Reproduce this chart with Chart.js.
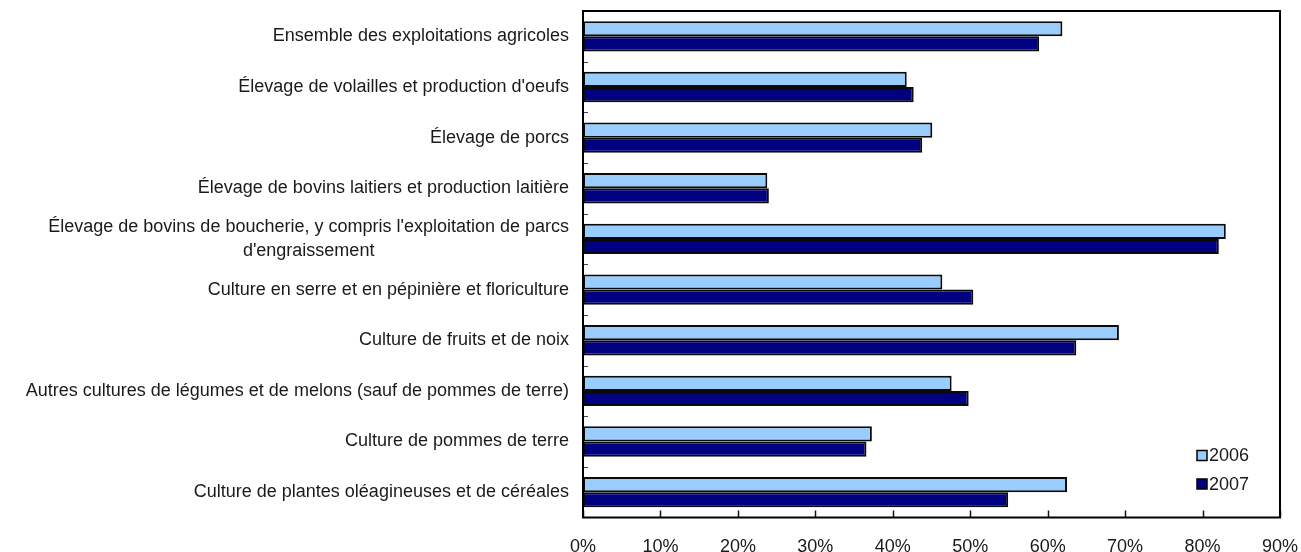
<!DOCTYPE html>
<html>
<head>
<meta charset="utf-8">
<script src="https://cdn.jsdelivr.net/npm/chart.js@4"></script>
<style>
  body { margin: 0; background: #fff; }
  #wrap { width: 1301px; height: 552px; }
</style>
</head>
<body>
<div id="wrap"><canvas id="myChart" width="1301" height="552"></canvas></div>
<script>
const categories = [
  ['Ensemble des exploitations agricoles'],
  ["Élevage de volailles et production d'oeufs"],
  ['Élevage de porcs'],
  ['Élevage de bovins laitiers et production laitière'],
  ["Élevage de bovins de boucherie, y compris l'exploitation de parcs", "d'engraissement"],
  ['Culture en serre et en pépinière et floriculture'],
  ['Culture de fruits et de noix'],
  ['Autres cultures de légumes et de melons (sauf de pommes de terre)'],
  ['Culture de pommes de terre'],
  ['Culture de plantes oléagineuses et de céréales']
];
const values2006 = [61.9, 41.8, 45.1, 23.8, 83.0, 46.4, 69.2, 47.6, 37.3, 62.5];
const values2007 = [58.9, 42.7, 43.8, 24.0, 82.1, 50.4, 63.7, 49.8, 36.6, 54.9];
const seriesLabels = ['2006', '2007'];
const xTicks = [0, 10, 20, 30, 40, 50, 60, 70, 80, 90];

const FONT = '"Liberation Sans", Arial, Helvetica, sans-serif';
const TEXT_COLOR = '#1a1a1a';

// cadre, petites graduations, étiquettes des catégories et légende
const decorPlugin = {
  id: 'decor',
  afterDraw(chart) {
    const { ctx, chartArea: a, scales } = chart;
    const xs = scales.x, ys = scales.y;
    ctx.save();

    // graduations vers l'intérieur
    ctx.strokeStyle = '#111';
    ctx.lineWidth = 1.5;
    xTicks.forEach(v => {
      const px = Math.round(xs.getPixelForValue(v)) + 0.5;
      ctx.beginPath();
      ctx.moveTo(px, a.bottom);
      ctx.lineTo(px, a.bottom - 7);
      ctx.stroke();
    });
    ctx.strokeStyle = '#444';
    ctx.lineWidth = 1;
    for (let i = 1; i < categories.length; i++) {
      const py = Math.round(ys.getPixelForValue(i - 0.5)) + 0.5;
      ctx.beginPath();
      ctx.moveTo(a.left, py);
      ctx.lineTo(a.left + 5, py);
      ctx.stroke();
    }

    // cadre
    ctx.strokeStyle = '#000';
    ctx.lineWidth = 2;
    ctx.strokeRect(a.left, a.top, a.right - a.left, a.bottom - a.top);

    // étiquettes
    ctx.font = '18px ' + FONT;
    ctx.fillStyle = TEXT_COLOR;
    ctx.textBaseline = 'middle';
    const labelRight = a.left - 14;
    categories.forEach((lines, i) => {
      const cy = ys.getPixelForValue(i);
      if (lines.length === 1) {
        ctx.textAlign = 'right';
        ctx.fillText(lines[0], labelRight, cy);
      } else {
        const maxW = Math.max(...lines.map(l => ctx.measureText(l).width));
        const cx = labelRight - maxW / 2;
        const lh = 23.5;
        ctx.textAlign = 'center';
        lines.forEach((l, k) => {
          ctx.fillText(l, cx, cy + (k - (lines.length - 1) / 2) * lh);
        });
      }
    });

    // légende
    const lx = a.right - 83, ly0 = a.bottom - 62;
    chart.data.datasets.forEach((ds, k) => {
      const y = ly0 + k * 28.5;
      ctx.fillStyle = ds.backgroundColor;
      ctx.fillRect(lx, y - 5, 10, 10);
      ctx.strokeStyle = '#000';
      ctx.lineWidth = 1.5;
      ctx.strokeRect(lx, y - 5, 10, 10);
      ctx.fillStyle = TEXT_COLOR;
      ctx.textAlign = 'left';
      ctx.fillText(ds.label, lx + 12, y + 1);
    });

    ctx.restore();
  }
};

const setup = () => {
  const context = document.getElementById('myChart').getContext('2d');
  new Chart(context, {
    type: 'bar',
    data: {
      labels: categories,
      datasets: [
        {
          label: seriesLabels[0],
          data: values2006,
          backgroundColor: '#99ccff',
          borderColor: '#0a0a0a',
          borderWidth: 2,
          borderSkipped: false,
          categoryPercentage: 0.6,
          barPercentage: 1.0
        },
        {
          label: seriesLabels[1],
          data: values2007,
          backgroundColor: '#000080',
          borderColor: '#0a0a0a',
          borderWidth: 2,
          borderSkipped: false,
          categoryPercentage: 0.6,
          barPercentage: 1.0
        }
      ]
    },
    options: {
      indexAxis: 'y',
      responsive: false,
      animation: false,
      layout: { padding: { top: 11, right: 21, left: 0, bottom: 0 } },
      plugins: {
        legend: { display: false },
        tooltip: { enabled: false }
      },
      scales: {
        x: {
          min: 0,
          max: 90,
          grid: { display: false, drawTicks: false },
          border: { display: false },
          afterBuildTicks: s => { s.ticks = xTicks.map(v => ({ value: v })); },
          afterFit: s => { s.height = 34.5; s.paddingLeft = 0; s.paddingRight = 0; },
          ticks: {
            padding: 19,
            color: TEXT_COLOR,
            font: { family: FONT, size: 18 },
            maxRotation: 0,
            callback: v => v + '%'
          }
        },
        y: {
          grid: { display: false, drawTicks: false },
          border: { display: false },
          ticks: { display: false },
          afterFit: s => { s.width = 583; }
        }
      }
    },
    plugins: [decorPlugin]
  });
};

window.addEventListener('DOMContentLoaded', setup);
</script>
</body>
</html>
